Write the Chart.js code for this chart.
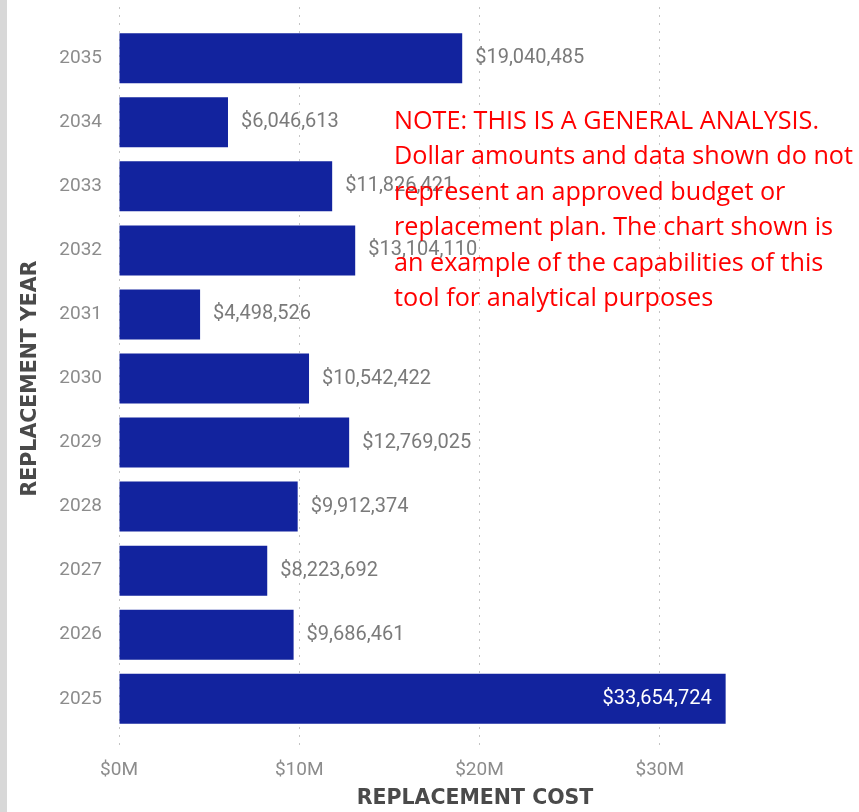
<!DOCTYPE html>
<html>
<head>
<meta charset="utf-8">
<script src="https://cdn.jsdelivr.net/npm/chart.js@4/dist/chart.umd.min.js"></script>
<style>
  html, body { margin: 0; padding: 0; background: #fff; }
  #wrap { position: relative; width: 859px; height: 812px; }
  #note {
    position: absolute; left: 394px; top: 102px; width: 470px;
    font-family: "Open Sans", Lato, sans-serif; font-size: 25.2px; line-height: 35.4px;
    color: #ff0000; white-space: nowrap;
  }
</style>
</head>
<body>
<div id="wrap">
  <canvas id="c" width="859" height="812"></canvas>
  <div id="note">NOTE: THIS IS A GENERAL ANALYSIS.<br>Dollar amounts and data shown do not<br>represent an approved budget or<br>replacement plan. The chart shown is<br>an example of the capabilities of this<br>tool for analytical purposes</div>
</div>
<script>
// Replacement cost by year
const years = [2035, 2034, 2033, 2032, 2031, 2030, 2029, 2028, 2027, 2026, 2025];
const costs = [19040485, 6046613, 11826421, 13104110, 4498526, 10542422, 12769025, 9912374, 8223692, 9686461, 33654724];
const costTicks = [0, 10000000, 20000000, 30000000];

const fmtMoney = v => '$' + v.toLocaleString('en-US');
const fmtTick = v => '$' + (v / 1e6) + 'M';

// light gray strip on the left edge of the page
const edgeStrip = {
  id: 'edgeStrip',
  beforeDraw(chart) {
    const ctx = chart.ctx;
    ctx.save();
    ctx.fillStyle = '#d8d8d8';
    ctx.fillRect(0, 0, 7, chart.height);
    ctx.restore();
  }
};

// value labels: outside the bar end, or inside in white when there is no room
const valueLabels = {
  id: 'valueLabels',
  afterDatasetsDraw(chart) {
    const ctx = chart.ctx;
    const area = chart.chartArea;
    const meta = chart.getDatasetMeta(0);
    ctx.save();
    ctx.font = '20px Roboto, sans-serif';
    ctx.textBaseline = 'middle';
    meta.data.forEach((bar, i) => {
      const text = fmtMoney(costs[i]);
      const w = ctx.measureText(text).width;
      if (bar.x + 13 + w > area.right) {
        ctx.fillStyle = '#ffffff';
        ctx.textAlign = 'right';
        ctx.fillText(text, bar.x - 14, bar.y);
      } else {
        ctx.fillStyle = '#7a7a7a';
        ctx.textAlign = 'left';
        ctx.fillText(text, bar.x + 13, bar.y);
      }
    });
    ctx.restore();
  }
};

new Chart(document.getElementById('c'), {
  type: 'bar',
  data: {
    datasets: [{
      data: years.map((y, i) => ({ x: costs[i], y: y })),
      backgroundColor: '#12239e',
      borderWidth: 0,
      categoryPercentage: 0.78,
      barPercentage: 1
    }]
  },
  options: {
    indexAxis: 'y',
    responsive: false,
    animation: false,
    layout: { padding: { left: 9, right: 28, top: 7, bottom: 0 } },
    plugins: { legend: { display: false }, tooltip: { enabled: false } },
    scales: {
      x: {
        type: 'linear',
        min: 0,
        max: 39500000,
        afterBuildTicks: s => { s.ticks = costTicks.map(v => ({ value: v })); },
        afterFit: s => { s.height = 62; },
        grid: { color: '#c4c4c4', lineWidth: 1, drawTicks: false },
        border: { display: false, dash: [2, 6] },
        ticks: {
          padding: 9,
          color: '#8c8c8c',
          font: { family: 'Roboto, sans-serif', size: 19 },
          callback: v => fmtTick(v)
        },
        title: {
          display: true,
          text: 'REPLACEMENT COST',
          color: '#4a4a4a',
          font: { family: '"DejaVu Sans", sans-serif', size: 20.5, weight: 'bold' },
          padding: { top: 0, bottom: 1 }
        }
      },
      y: {
        type: 'linear',
        offset: false,
        min: 2024.2,
        max: 2035.8,
        afterBuildTicks: s => { s.ticks = years.map(v => ({ value: v })); },
        afterFit: s => { s.width = 110; s.paddingTop = 0; s.paddingBottom = 0; },
        grid: { display: false, offset: false, drawTicks: false },
        border: { display: false },
        ticks: {
          padding: 17,
          color: '#8c8c8c',
          font: { family: 'Roboto, sans-serif', size: 19 },
          callback: v => String(v)
        },
        title: {
          display: true,
          text: 'REPLACEMENT YEAR',
          color: '#4a4a4a',
          font: { family: '"DejaVu Sans", sans-serif', size: 20.5, weight: 'bold' },
          padding: { top: 9, bottom: 0 }
        }
      }
    }
  },
  plugins: [edgeStrip, valueLabels]
});
</script>
</body>
</html>
